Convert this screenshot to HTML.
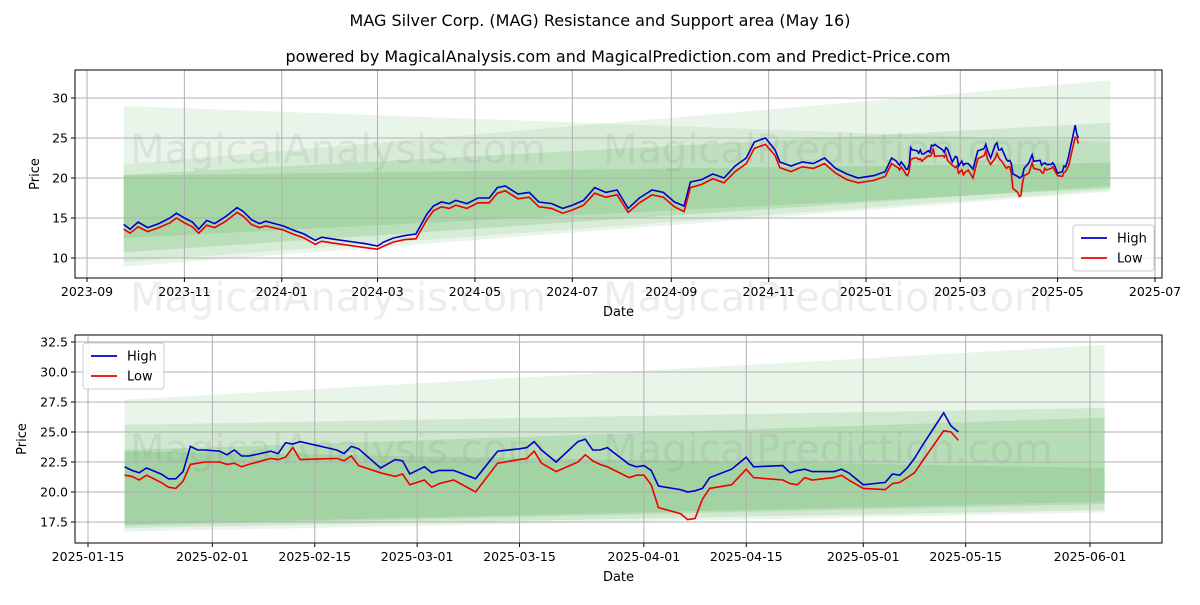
<!DOCTYPE html>
<html><head><meta charset="utf-8"><style>
body{margin:0;background:#fff;font-family:"Liberation Sans","DejaVu Sans",sans-serif}
svg text{font-family:"DejaVu Sans","Liberation Sans",sans-serif}
</style></head><body>
<svg id="c" width="1200" height="600" xmlns="http://www.w3.org/2000/svg">
<text x="600" y="26" text-anchor="middle" font-size="16">MAG Silver Corp. (MAG) Resistance and Support area (May 16)</text>
<text x="618" y="62" text-anchor="middle" font-size="16">powered by MagicalAnalysis.com and MagicalPrediction.com and Predict-Price.com</text>
</svg>
<script>
const topDates=["2023-09-24","2023-09-28","2023-10-03","2023-10-09","2023-10-16","2023-10-23","2023-10-27","2023-11-01","2023-11-06","2023-11-10","2023-11-15","2023-11-20","2023-11-27","2023-12-04","2023-12-08","2023-12-13","2023-12-18","2023-12-22","2024-01-02","2024-01-08","2024-01-15","2024-01-22","2024-01-26","2024-02-01","2024-02-08","2024-02-15","2024-02-22","2024-03-01","2024-03-05","2024-03-11","2024-03-18","2024-03-25","2024-04-01","2024-04-05","2024-04-10","2024-04-15","2024-04-19","2024-04-26","2024-05-03","2024-05-10","2024-05-15","2024-05-20","2024-05-28","2024-06-04","2024-06-10","2024-06-18","2024-06-25","2024-07-01","2024-07-08","2024-07-15","2024-07-22","2024-07-29","2024-08-05","2024-08-12","2024-08-20","2024-08-27","2024-09-03","2024-09-09","2024-09-13","2024-09-20","2024-09-27","2024-10-04","2024-10-11","2024-10-18","2024-10-23","2024-10-30","2024-11-05","2024-11-08","2024-11-15","2024-11-22","2024-11-29","2024-12-06","2024-12-13","2024-12-20","2024-12-27","2025-01-06","2025-01-13","2025-01-17"];
const topHigh=[14.2,13.6,14.5,13.8,14.3,15.0,15.6,15.0,14.5,13.6,14.7,14.3,15.2,16.3,15.8,14.8,14.3,14.6,14.0,13.5,13.0,12.2,12.6,12.4,12.2,12.0,11.8,11.5,12.0,12.5,12.8,13.0,15.5,16.5,17.0,16.8,17.2,16.8,17.5,17.5,18.8,19.0,18.0,18.2,17.0,16.8,16.2,16.6,17.2,18.8,18.2,18.5,16.2,17.5,18.5,18.2,17.0,16.5,19.5,19.8,20.5,20.0,21.5,22.5,24.5,25.0,23.5,22.0,21.5,22.0,21.8,22.5,21.2,20.5,20.0,20.3,20.8,22.5];
const topLow=[13.6,13.1,13.9,13.3,13.8,14.4,15.0,14.4,13.9,13.1,14.1,13.8,14.6,15.7,15.2,14.2,13.8,14.0,13.5,13.0,12.5,11.7,12.1,11.9,11.7,11.5,11.3,11.1,11.5,12.0,12.3,12.4,14.8,15.9,16.4,16.2,16.6,16.2,16.9,16.9,18.1,18.4,17.4,17.6,16.4,16.2,15.6,16.0,16.6,18.1,17.6,17.9,15.7,16.9,17.9,17.6,16.4,15.8,18.8,19.2,19.9,19.4,20.8,21.8,23.7,24.2,22.8,21.3,20.8,21.4,21.2,21.8,20.6,19.8,19.4,19.7,20.2,21.8];
const botDates=["01-20","01-21","01-22","01-23","01-25","01-26","01-27","01-28","01-29","01-30","01-31","02-02","02-03","02-04","02-05","02-06","02-09","02-10","02-11","02-12","02-13","02-18","02-19","02-20","02-21","02-24","02-26","02-27","02-28","03-02","03-03","03-04","03-06","03-09","03-12","03-15","03-16","03-17","03-18","03-20","03-23","03-24","03-25","03-26","03-27","03-30","03-31","04-01","04-02","04-03","04-06","04-07","04-08","04-09","04-10","04-13","04-15","04-16","04-20","04-21","04-22","04-23","04-24","04-27","04-28","04-29","05-01","05-04","05-05","05-06","05-07","05-08","05-09","05-12","05-13","05-14"];
const botHigh=[22.1,21.8,21.6,22.0,21.5,21.1,21.1,21.7,23.8,23.5,23.5,23.4,23.1,23.5,23.0,23.0,23.4,23.2,24.1,24.0,24.2,23.5,23.2,23.8,23.6,22.0,22.7,22.6,21.5,22.1,21.6,21.8,21.8,21.1,23.4,23.6,23.7,24.2,23.5,22.5,24.2,24.4,23.5,23.5,23.7,22.3,22.1,22.2,21.8,20.5,20.2,20.0,20.1,20.3,21.2,21.9,22.9,22.1,22.2,21.6,21.8,21.9,21.7,21.7,21.9,21.6,20.6,20.8,21.5,21.4,22.0,22.8,23.8,26.6,25.5,25.0];
const botLow=[21.4,21.3,21.0,21.4,20.8,20.4,20.3,20.9,22.3,22.4,22.5,22.5,22.3,22.4,22.1,22.3,22.8,22.7,22.9,23.7,22.7,22.8,22.6,23.0,22.2,21.6,21.3,21.5,20.6,21.0,20.4,20.7,21.0,20.0,22.4,22.7,22.8,23.4,22.4,21.7,22.5,23.1,22.6,22.3,22.1,21.2,21.4,21.4,20.6,18.7,18.2,17.7,17.8,19.4,20.3,20.6,21.9,21.2,21.0,20.7,20.6,21.2,21.0,21.2,21.4,21.0,20.3,20.2,20.7,20.8,21.2,21.6,22.5,25.1,25.0,24.3];
// bands: [upperStart, upperEnd, lowerStart, lowerEnd, opacity]
const topBandA=[29.0,24.5,9.5,18.5,0.10];
const topBandB=[21.7,32.2,8.9,18.3,0.10];
const topBandC=[20.4,26.9,12.5,18.7,0.14];
const topBandD=[20.3,21.9,10.7,19.0,0.16];
const botBandA=[27.7,32.25,16.7,18.3,0.10];
const botBandB=[25.6,27.0,17.0,18.5,0.14];
const botBandC=[23.5,26.2,17.2,19.0,0.14];
const botBandD=[23.4,22.0,17.3,19.2,0.14];
const topYTicks=[10,15,20,25,30];
const topXTicks=["2023-09","2023-11","2024-01","2024-03","2024-05","2024-07","2024-09","2024-11","2025-01","2025-03","2025-05","2025-07"];
const botYTicks=[17.5,20.0,22.5,25.0,27.5,30.0,32.5];
const botXTicks=["2025-01-15","2025-02-01","2025-02-15","2025-03-01","2025-03-15","2025-04-01","2025-04-15","2025-05-01","2025-05-15","2025-06-01"];

const NS="http://www.w3.org/2000/svg";
const svg=document.getElementById('c');
const D=s=>Date.parse(s+"T00:00:00Z")/86400000;
function mk(tag,attrs,parent){const e=document.createElementNS(NS,tag);for(const k in attrs)e.setAttribute(k,attrs[k]);(parent||svg).appendChild(e);return e;}

function chart(cfg){
  const {L,R,T,B}=cfg;
  const g=mk('g',{});
  
  
  const x=d=>cfg.x0+(D(d)-D(cfg.d0))*cfg.xs;
  const y=v=>cfg.y0-(v-cfg.v0)*cfg.ys;
  const bs=cfg.bandStart,be=cfg.bandEnd;
  cfg.bands.forEach((b,i)=>{
    const p=mk('polygon',{points:`${x(bs)},${y(b[0])} ${x(be)},${y(b[1])} ${x(be)},${y(b[3])} ${x(bs)},${y(b[2])}`,fill:'#2e9a2e','fill-opacity':b[4]},g);
    
    
  });
  cfg.marks.forEach(m=>{
    const t=mk('text',{x:m[0],y:m[1],'font-size':40,fill:'#888','fill-opacity':0.15},g);
    t.textContent=m[2];
    
    
  });
  cfg.yTicks.forEach(v=>{
    const yy=y(v);
    const l=mk('line',{x1:L,x2:R,y1:yy,y2:yy,stroke:'#b0b0b0','stroke-width':1},g);
    
    
    mk('line',{x1:L-4,x2:L,y1:yy,y2:yy,stroke:'#000'},g);
    const t=mk('text',{x:L-7,y:yy+4.5,'text-anchor':'end','font-size':12.5},g);
    t.textContent=cfg.yFmt(v);
    
    
  });
  cfg.xTicks.forEach(d=>{
    const xx=x(cfg.xParse(d));
    const l=mk('line',{x1:xx,x2:xx,y1:T,y2:B,stroke:'#b0b0b0','stroke-width':1},g);
    
    
    mk('line',{x1:xx,x2:xx,y1:B,y2:B+4,stroke:'#000'},g);
    const t=mk('text',{x:xx,y:B+18,'text-anchor':'middle','font-size':12.5},g);
    t.textContent=d;
    
    
  });
  const pts=arr=>cfg.dates.map((d,i)=>x(d).toFixed(1)+','+y(arr[i]).toFixed(1)).join(' ');
  const hi=mk('polyline',{points:pts(cfg.high),fill:'none',stroke:'#0000cc','stroke-width':1.6},g);
  
  
  const lo=mk('polyline',{points:pts(cfg.low),fill:'none',stroke:'#ee0000','stroke-width':1.6},g);
  
  
  const f=mk('rect',{x:L,y:T,width:R-L,height:B-T,fill:'none',stroke:'#000','stroke-width':1},g);
  
  
  const xt=mk('text',{x:(L+R)/2,y:B+38,'text-anchor':'middle','font-size':13},g);
  xt.textContent='Date';
  
  
  const yt=mk('text',{x:0,y:0,'text-anchor':'middle','font-size':13,transform:`translate(${cfg.yTitleX},${(T+B)/2}) rotate(-90)`},g);
  yt.textContent='Price';
  
  
  const [lx,ly]=cfg.legend;
  const lg=mk('g',{},g);
  
  
  mk('rect',{x:lx,y:ly,width:81,height:46,rx:3,fill:'#fff','fill-opacity':0.85,stroke:'#ccc'},lg);
  [['High','#0000cc'],['Low','#ee0000']].forEach((e,i)=>{
    const yy=ly+13+i*20;
    const s=mk('line',{x1:lx+8,x2:lx+34,y1:yy,y2:yy,stroke:e[1],'stroke-width':1.8},lg);
    
    
    const t=mk('text',{x:lx+44,y:yy+4.5,'font-size':13},lg);
    t.textContent=e[0];
    
    
  });
}

chart({name:'full-history-chart',L:75,R:1162,T:70,B:278,x0:87,d0:'2023-09-01',xs:1068/669,y0:258,v0:10,ys:8,
  bandStart:'2023-09-24',bandEnd:'2025-06-03',
  bands:[topBandA,topBandB,topBandC,topBandD],
  marks:[[130,163,'MagicalAnalysis.com'],[603,163,'MagicalPrediction.com'],[130,311,'MagicalAnalysis.com'],[603,311,'MagicalPrediction.com']],
  yTicks:topYTicks,yFmt:v=>String(v),xTicks:topXTicks,xParse:d=>d+'-01',
  dates:topDates.concat(botDates.map(d=>'2025-'+d)),high:topHigh.concat(botHigh),low:topLow.concat(botLow),
  yTitleX:39,legend:[1073,225]});
chart({name:'recent-zoom-chart',L:75,R:1162,T:335,B:543,x0:88,d0:'2025-01-15',xs:(1090-88)/137,y0:522,v0:17.5,ys:12,
  bandStart:'2025-01-20',bandEnd:'2025-06-03',
  bands:[botBandA,botBandB,botBandC,botBandD],
  marks:[[130,463,'MagicalAnalysis.com'],[603,463,'MagicalPrediction.com']],
  yTicks:botYTicks,yFmt:v=>v.toFixed(1),xTicks:botXTicks,xParse:d=>d,
  dates:botDates.map(d=>'2025-'+d),high:botHigh,low:botLow,
  yTitleX:26,legend:[83,343]});
</script>
</body></html>
